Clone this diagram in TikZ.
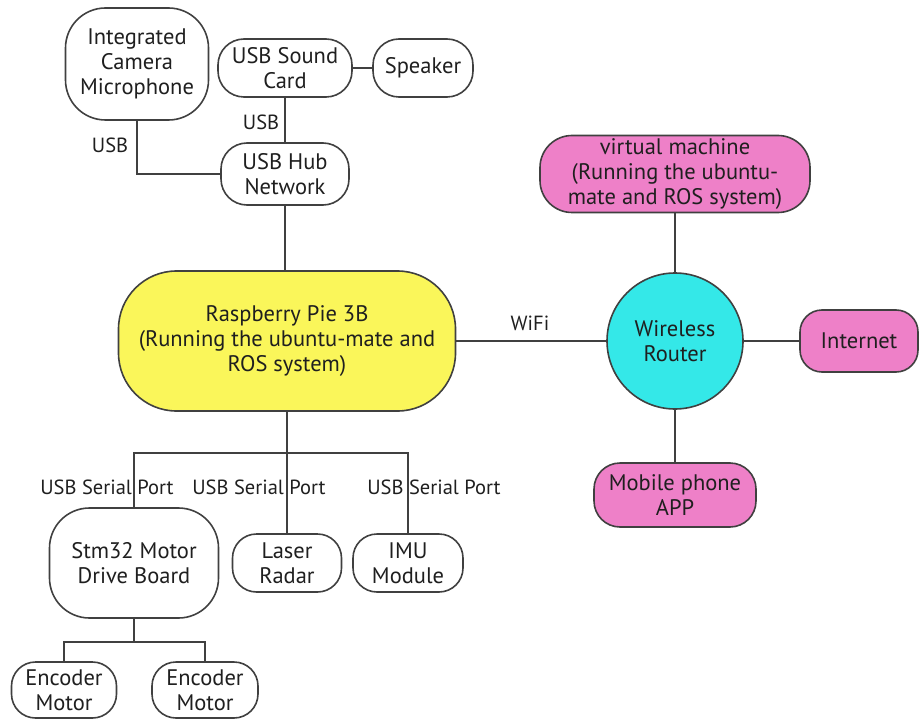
\documentclass[tikz,border=0pt]{standalone}
\usepackage{fontspec}
\setmainfont{PT Sans}
\definecolor{piyellow}{RGB}{250,246,90}
\definecolor{routercyan}{RGB}{52,232,232}
\definecolor{netpink}{RGB}{238,128,200}
\definecolor{edgegray}{RGB}{64,64,64}
\begin{document}
\begin{tikzpicture}[x=1pt,y=-1pt,
  every node/.style={font=\fontsize{22.5}{25}\selectfont, text=black!88},
  box/.style={draw=edgegray, line width=1.6pt, align=center, inner sep=0pt, fill=white},
  conn/.style={draw=edgegray, line width=1.6pt},
  lbl/.style={font=\fontsize{20.5}{22}\selectfont, inner sep=1pt}]
\useasboundingbox (0,0) rectangle (920,719);
% left-top cluster
\node[box, minimum width=143pt, minimum height=112pt, rounded corners=40pt] (cam) at (137,64) {Integrated\\Camera\\Microphone};
\node[box, minimum width=134pt, minimum height=58pt, rounded corners=26pt] (card) at (285,68) {USB Sound\\Card};
\node[box, minimum width=100pt, minimum height=58pt, rounded corners=26pt] (spk) at (423,68) {Speaker};
\node[box, minimum width=128pt, minimum height=62pt, rounded corners=26pt] (hub) at (285,174) {USB Hub\\Network};
% main board
\node[box, fill=piyellow, minimum width=337pt, minimum height=140pt, rounded corners=58pt] (pi) at (287,341) {Raspberry Pie 3B\\(Running the ubuntu-mate and\\ROS system)};
% peripherals
\node[box, minimum width=169pt, minimum height=110pt, rounded corners=40pt] (stm) at (134,563) {Stm32 Motor\\Drive Board};
\node[box, minimum width=109pt, minimum height=58pt, rounded corners=24pt] (laser) at (287,563) {Laser\\Radar};
\node[box, minimum width=110pt, minimum height=58pt, rounded corners=24pt] (imu) at (408,563) {IMU\\Module};
\node[box, minimum width=105pt, minimum height=56pt, rounded corners=24pt] (enca) at (64,690) {Encoder\\Motor};
\node[box, minimum width=106pt, minimum height=56pt, rounded corners=24pt] (encb) at (205,690) {Encoder\\Motor};
% network side
\node[box, fill=netpink, minimum width=270pt, minimum height=77pt, rounded corners=32pt] (vm) at (675,174) {virtual machine\\(Running the ubuntu-\\mate and ROS system)};
\node[box, fill=routercyan, circle, minimum size=136pt] (router) at (675,341) {Wireless\\Router};
\node[box, fill=netpink, minimum width=118pt, minimum height=62pt, rounded corners=22pt] (inet) at (859,341) {Internet};
\node[box, fill=netpink, minimum width=162pt, minimum height=64pt, rounded corners=26pt] (app) at (675,495) {Mobile phone\\APP};
% helper coordinates
\coordinate (bus) at (287,453);
\coordinate (ebus) at (134,642);
% connectors
\draw[conn] (cam.south) |- (hub.west);
\draw[conn] (card.south) -- (hub.north);
\draw[conn] (card.east) -- (spk.west);
\draw[conn] (hub.south) -- (hub.south |- pi.north);
\draw[conn] (pi.south) -- (laser.north);
\draw[conn] (stm.north) |- (bus) -| (imu.north);
\draw[conn] (stm.south) -- (ebus);
\draw[conn] (enca.north) |- (ebus) -| (encb.north);
\draw[conn] (pi.east) -- (router.west);
\draw[conn] (vm.south) -- (router.north);
\draw[conn] (router.east) -- (inet.west);
\draw[conn] (router.south) -- (app.north);
% labels
\node[lbl] (l1) at (110,145) {USB};
\node[lbl] (l2) at (261,122) {USB};
\node[lbl] (l3) at (107,487) {USB Serial Port};
\node[lbl] (l4) at (259,487) {USB Serial Port};
\node[lbl] (l5) at (434,487) {USB Serial Port};
\node[lbl] (l6) at (530,323) {WiFi};
\end{tikzpicture}
\end{document}
